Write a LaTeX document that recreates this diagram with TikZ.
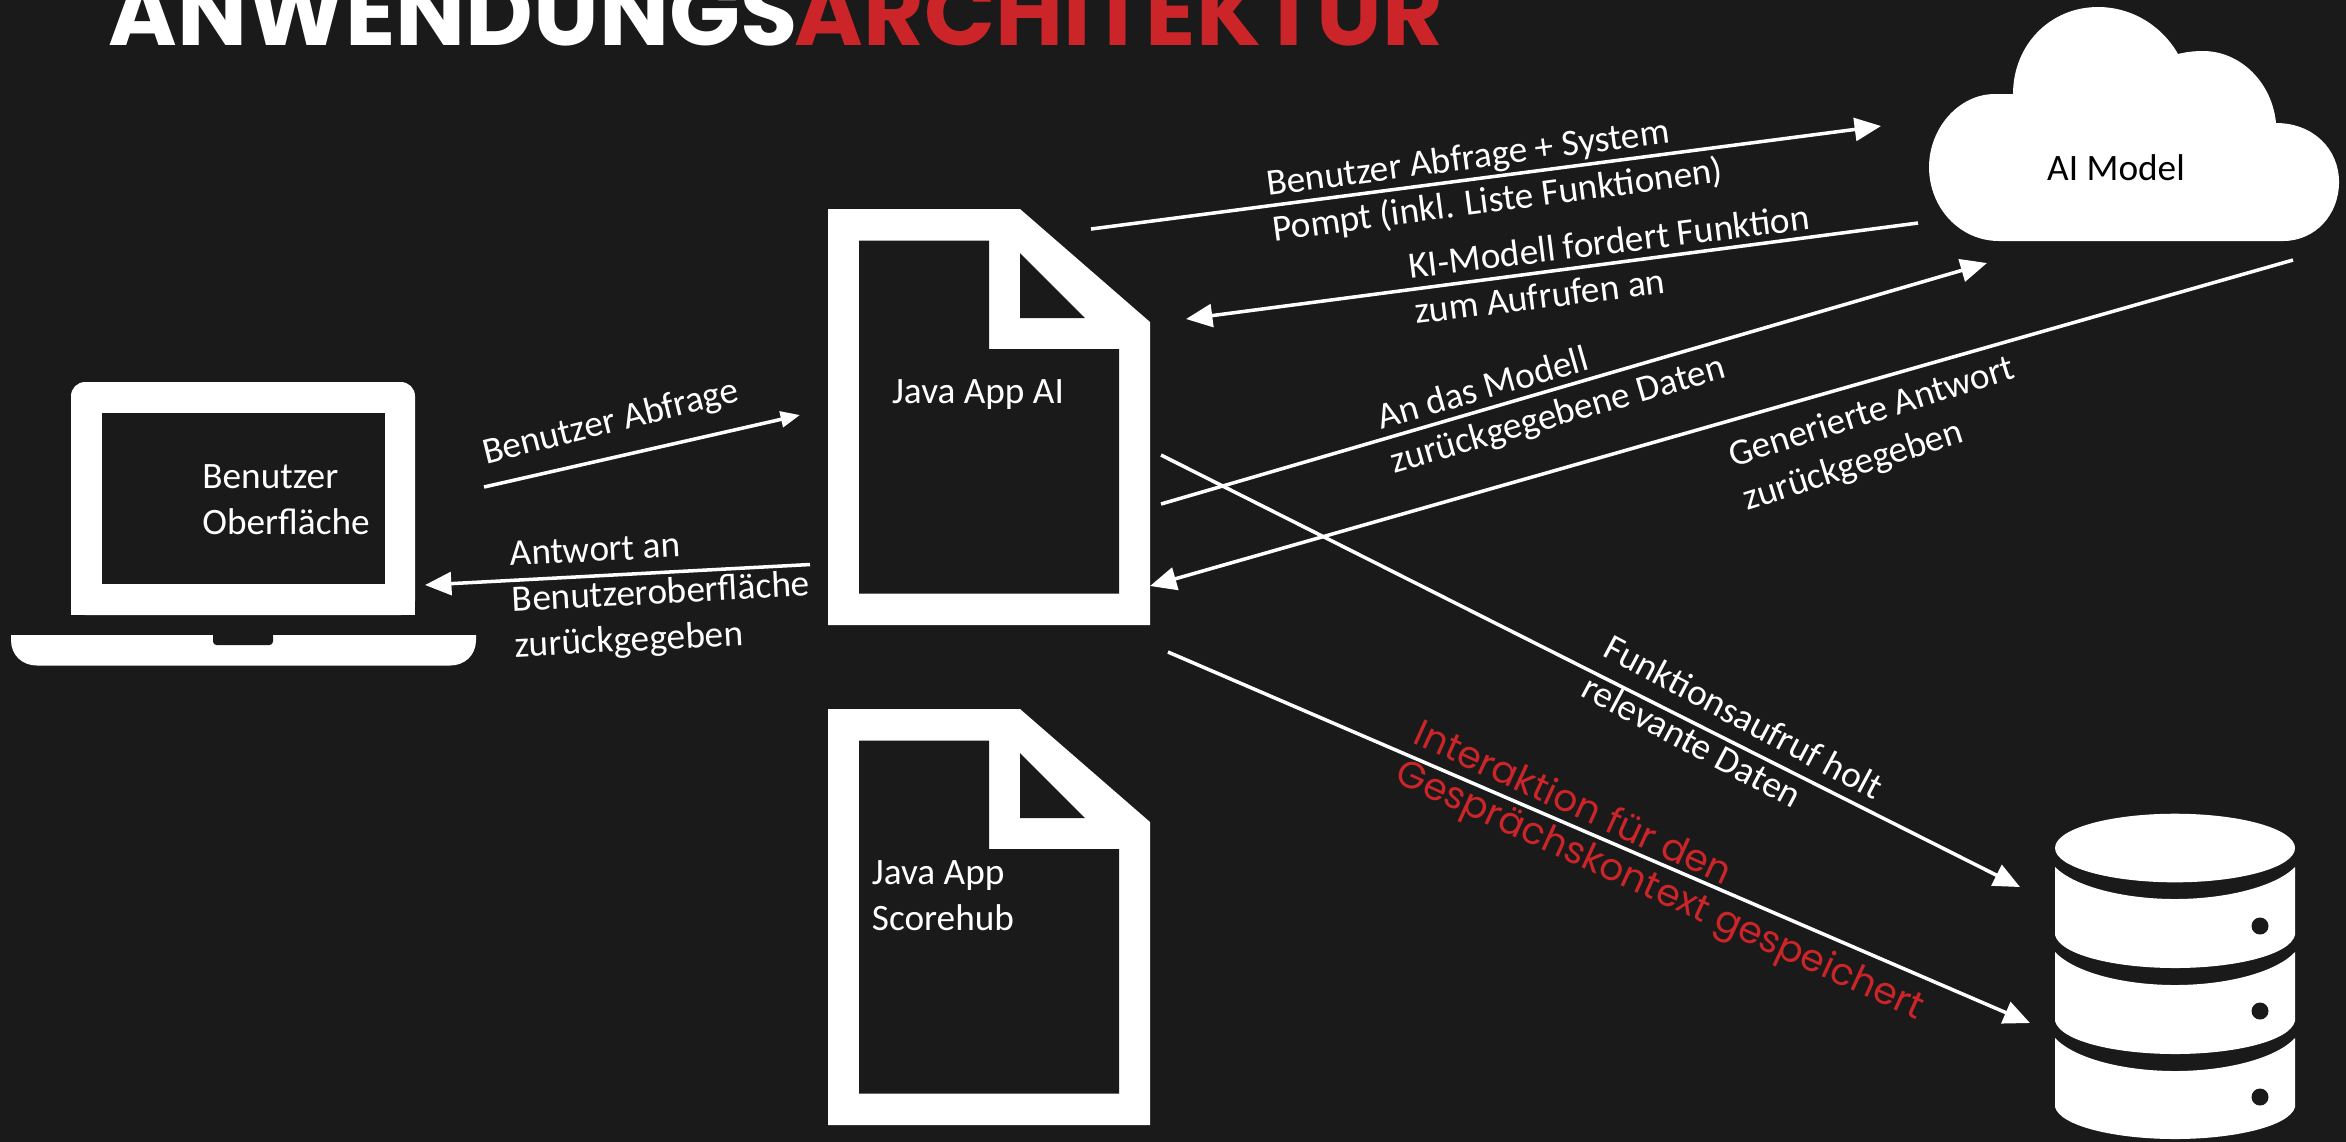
\documentclass[tikz,border=0pt]{standalone}
\usepackage{fontspec}
\setmainfont{Carlito}
\newfontfamily\headfont{Poppins}
\usetikzlibrary{arrows.meta}
\definecolor{darkbg}{HTML}{1A1A1A}
\definecolor{headred}{HTML}{CC2529}
\tikzset{
  conn/.style={draw=white, line width=1pt, -{Triangle[length=7.5pt, width=6.5pt]}},
  smallconn/.style={draw=white, line width=1pt, -{Triangle[length=5.5pt, width=4.5pt]}},
  lbl/.style={text=white, font=\fontsize{10.6pt}{13pt}\selectfont, inner sep=0pt, align=left},
  redlbl/.style={text=headred, font=\headfont\fontsize{10.7pt}{12.2pt}\selectfont, inner sep=0pt, align=left},
  head/.style={font=\headfont\bfseries\fontsize{26.5pt}{26.5pt}\selectfont, inner sep=0pt, anchor=base west},
}
\begin{document}
\begin{tikzpicture}[x=0.01cm, y=-0.01cm]
\useasboundingbox (0,0) rectangle (2346,1141);
\fill[darkbg] (-10,-10) rectangle (2356,1151);

% title
\begin{scope}
\clip (0,0) rectangle (2346,1141);
\node (titlea) [head, text=white] at (108,45) {ANWENDUNGS};
\node (titleb) [head, text=headred] at (794,45) {ARCHITEKTUR};
\end{scope}

% laptop
\fill[white, rounded corners=4pt] (71,382) rectangle (415,615);
\fill[white] (71,500) rectangle (415,615);
\fill[darkbg] (102,413) rectangle (385,584);
\fill[white] (11,635) -- (476,635) -- (476,640)
  .. controls (476,655) and (465,665.5) .. (450,665.5) -- (37,665.5)
  .. controls (22,665.5) and (11,655) .. (11,640) -- cycle;
\fill[darkbg, rounded corners=1pt] (213,632) -- (213,645) -- (273,645) -- (273,632) -- cycle;

% documents
\foreach \dy in {0,500} {
  \fill[white] (828,209+\dy) -- (1020,209+\dy) -- (1150,322+\dy) -- (1150,625+\dy) -- (828,625+\dy) -- cycle;
  \fill[darkbg] (859,240.5+\dy) -- (989,240.5+\dy) -- (989,349+\dy) -- (1119,349+\dy) -- (1119,593.6+\dy) -- (859,593.6+\dy) -- cycle;
  \fill[darkbg] (1020,253+\dy) -- (1085,318+\dy) -- (1020,318+\dy) -- cycle;
}

% cloud
\fill[white] (1999,241) -- (2283,241)
  .. controls (2315,241) and (2339,215) .. (2339,182)
  .. controls (2339,149) and (2313,123) .. (2276,123)
  .. controls (2272,82) and (2240,51) .. (2203,51)
  .. controls (2194,51) and (2186,52) .. (2178,54)
  .. controls (2162,26) and (2132,7) .. (2098,7)
  .. controls (2050,7) and (2013,45) .. (2013,94)
  .. controls (2006,94) and (2000,94) .. (1995,94)
  .. controls (1958,94) and (1929,129) .. (1929,167)
  .. controls (1929,208) and (1960,241) .. (1999,241) -- cycle;

% database
\fill[white] (2175,848) ellipse (120 and 34.3);
\foreach \ya/\yb/\yc/\yd in {867/899/935/968, 952/985/1021/1054, 1038/1071/1107/1139} {
  \fill[white] (2055,\ya) .. controls (2075,\yb-12) and (2125,\yb) .. (2175,\yb)
    .. controls (2225,\yb) and (2275,\yb-12) .. (2295,\ya) -- (2295,\yc)
    .. controls (2290,\yd-13) and (2235,\yd) .. (2175,\yd)
    .. controls (2115,\yd) and (2060,\yd-13) .. (2055,\yc) -- cycle;
}
\foreach \yy in {926,1011,1097} {
  \fill[darkbg] (2260,\yy) circle (8.5);
}

% labels of the icons
\node (ui) [lbl] at (286,500) {Benutzer\\Oberfläche};
\node (appai) [lbl] at (978,395) {Java App AI};
\node (scorehub) [lbl] at (943,896) {Java App\\Scorehub};
\node (model) [lbl, text=black] at (2116,168) {AI Model};

% end points of the connectors
\coordinate (askfrom) at (484,487);
\coordinate (askto) at (800,415);
\coordinate (answerfrom) at (810,564.5);
\coordinate (answerto) at (425,585);
\coordinate (promptfrom) at (1091,229);
\coordinate (promptto) at (1881,126);
\coordinate (callfrom) at (1918,223);
\coordinate (callto) at (1186,319);
\coordinate (datafrom) at (1161,504);
\coordinate (datato) at (1987,263);
\coordinate (genfrom) at (2293,260);
\coordinate (gento) at (1150,586);
\coordinate (fetchfrom) at (1161,455);
\coordinate (fetchto) at (2020,887);
\coordinate (savefrom) at (1168,652);
\coordinate (saveto) at (2030,1023);

\draw[smallconn] (askfrom) -- (askto);
\draw[conn] (answerfrom) -- (answerto);
\draw[conn] (promptfrom) -- (promptto);
\draw[conn] (callfrom) -- (callto);
\draw[conn] (datafrom) -- (datato);
\draw[conn] (genfrom) -- (gento);
\draw[conn] (fetchfrom) -- (fetchto);
\draw[conn] (savefrom) -- (saveto);

% labels of the connectors
\node (asklbl) [lbl, rotate=14] at (611,423) {Benutzer Abfrage};
\node (answerlbl) [lbl, rotate=3] at (661,595) {Antwort an\\Benutzeroberfläche\\zurückgegeben};
\node (promptlbl) [lbl, rotate=7.5] at (1495,179) {Benutzer Abfrage + System\\Pompt (inkl. Liste Funktionen)};
\node (calllbl) [lbl, rotate=7] at (1612,264) {KI-Modell fordert Funktion\\zum Aufrufen an};
\node (datalbl) [lbl, rotate=16] at (1552,394) {An das Modell\\zurückgegebene Daten};
\node (genlbl) [lbl, rotate=17.5] at (1879,435) {Generierte Antwort\\zurückgegeben};
\node (fetchlbl) [lbl, rotate=-28] at (1733,737) {Funktionsaufruf holt\\relevante Daten};
\node (savelbl) [redlbl, rotate=-24.5] at (1668,873) {Interaktion für den\\Gesprächskontext gespeichert};
\end{tikzpicture}
\end{document}
